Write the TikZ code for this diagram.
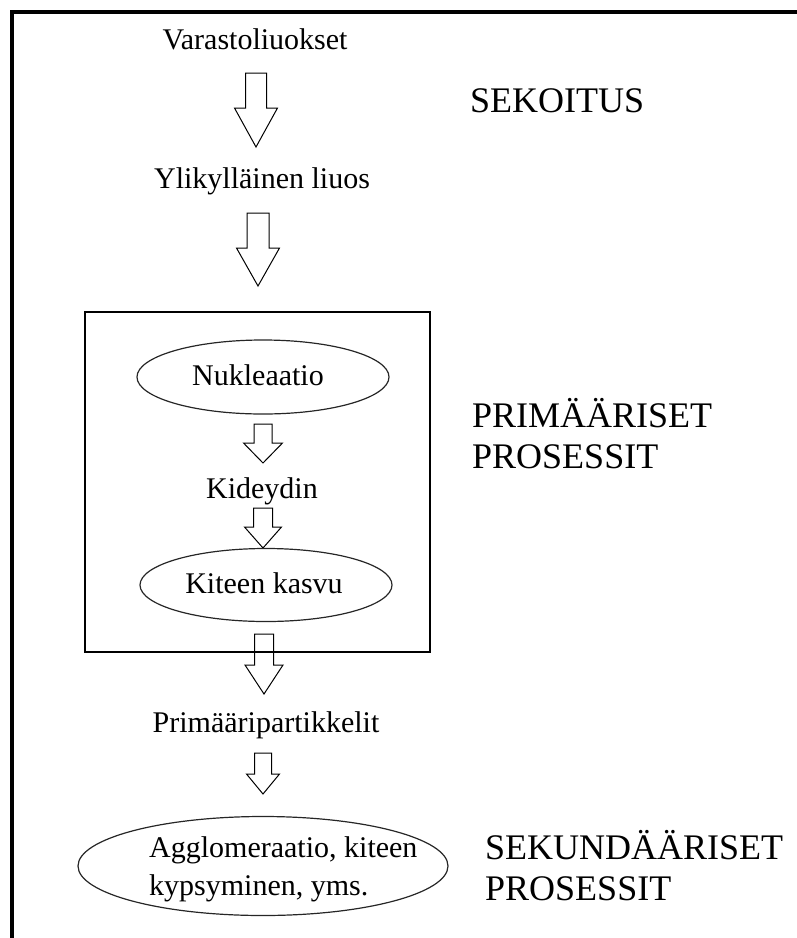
\documentclass[tikz,border=0pt]{standalone}
\usepackage{fontspec}
\setmainfont{Liberation Serif}
\usetikzlibrary{shapes.geometric}
% cx, top, shaft half width, head half width, head start, tip
\newcommand\blkarrow[6]{%
  \draw[blockarrow] ({#1-#3},#2) -- ({#1+#3},#2) -- ({#1+#3},#5) -- ({#1+#4},#5)
    -- (#1,#6) -- ({#1-#4},#5) -- ({#1-#3},#5) -- cycle;}
\begin{document}
\begin{tikzpicture}[x=1pt,y=-1pt,
  lbl/.style={font=\fontsize{30}{38}\selectfont, inner sep=0pt, anchor=base},
  biglbl/.style={font=\fontsize{36}{41}\selectfont, inner sep=0pt, anchor=base west, align=left},
  oval/.style={ellipse, draw=black!85, line width=1.2pt, inner sep=0pt},
  blockarrow/.style={draw=black, line width=1pt, fill=white, line join=miter},
  frameline/.style={line width=4.5pt, line join=miter}]
\useasboundingbox (0,0) rectangle (796,938);

% outer frame
\coordinate (fbl) at (12,940);
\coordinate (ftl) at (12,12);
\coordinate (ftr) at (798,12);
\draw[frameline] (fbl) -- (ftl) -- (ftr);

% texts along the flow
\node[lbl] (var) at (255,49) {Varastoliuokset};
\node[lbl] (yli) at (262,188) {Ylikylläinen liuos};

\blkarrow{256}{73}{10.5}{21.5}{108}{147}
\blkarrow{258}{213}{11}{21.5}{248}{286}

% ellipses
\node[oval, minimum width=252pt, minimum height=74pt] (nukE) at (263,377) {};
\node[lbl] (nuk) at (258,385) {Nukleaatio};

\blkarrow{263}{424}{9}{19.5}{443}{463}
\node[lbl] (kid) at (262,498) {Kideydin};
\blkarrow{263}{508}{9.5}{18.5}{527}{548}

\node[oval, minimum width=252pt, minimum height=73pt] (kasE) at (266,585) {};
\node[lbl] (kas) at (264,593) {Kiteen kasvu};

\blkarrow{264}{634}{9.5}{19}{665}{694}

% inner box
\node[draw, line width=1.3pt, minimum width=345pt, minimum height=340pt, inner sep=0pt] (box) at (257.5,482) {};

\node[lbl] (pri) at (266,732) {Primääripartikkelit};
\blkarrow{263}{753}{8.5}{16.5}{774}{794}

\node[oval, minimum width=370pt, minimum height=99pt] (aggE) at (263,866) {};
\node[lbl, anchor=base west, align=left] (agg) at (149,895) {Agglomeraatio, kiteen\\kypsyminen, yms.};

% right labels (base anchor = baseline of last line)
\node[biglbl] (sek) at (470,112) {SEKOITUS};
\node[biglbl] (prim) at (472,468) {PRIMÄÄRISET\\PROSESSIT};
\node[biglbl] (sekund) at (485,900) {SEKUNDÄÄRISET\\PROSESSIT};
\end{tikzpicture}
\end{document}
